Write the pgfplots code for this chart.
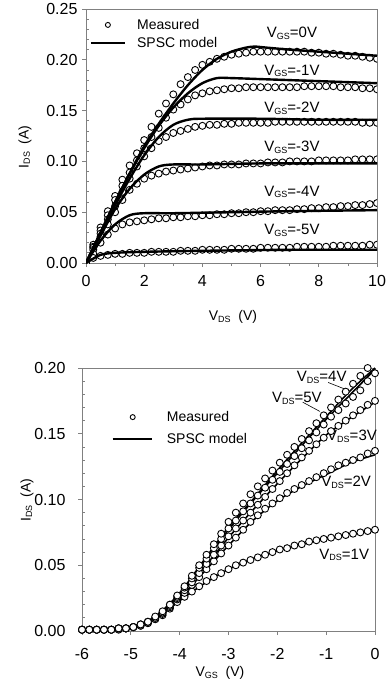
\documentclass[border=0pt]{standalone}
\usepackage{pgfplots}
\pgfplotsset{compat=1.18}
\usepackage{fontspec}
\setmainfont{Liberation Sans}
\newcommand\sub[1]{\raisebox{-0.2ex}{\fontsize{9}{9}\selectfont #1}}
\definecolor{axgray}{RGB}{128,128,128}
\pgfplotsset{
  myaxis/.style={
    scale only axis, axis line style={axgray, line width=1pt},
    every tick/.style={axgray, line width=0.8pt},
    major tick length=4pt, minor tick length=3pt,
    tick align=outside, xtick pos=bottom, ytick pos=left,
    minor y tick num=4,
    minor y tick style={xshift=3pt},
    /pgf/number format/assume math mode=true,
    tick label style={font=\fontsize{16}{16}\selectfont, black},
    scaled y ticks=false,
    yticklabel style={/pgf/number format/fixed, /pgf/number format/precision=2, /pgf/number format/fixed zerofill},
    label style={font=\fontsize{14}{14}\selectfont},
  },
  meas/.style={only marks, mark=*, mark size=3.5pt, mark options={fill=white, draw=black, line width=0.9pt}, black},
  model/.style={no marks, black, line width=2.4pt, smooth},
  measlegA/.style={legend image code/.code={\draw[mark repeat=2, mark phase=2, ##1] plot coordinates {(0pt,0pt)(17pt,0pt)(34pt,0pt)};}},
  modellegA/.style={legend image code/.code={\draw[##1] (0pt,0pt) -- (34pt,0pt);}},
  measlegB/.style={legend image code/.code={\draw[mark repeat=2, mark phase=2, ##1] plot coordinates {(0pt,0pt)(20pt,0pt)(39pt,0pt)};}},
  modellegB/.style={legend image code/.code={\draw[##1] (0pt,0pt) -- (39pt,0pt);}},
}
\pgfplotstableread{
x a0 a1 a2 a3 a4 a5
0 0 0 0 0 0 0
0.25 0.018 0.016 0.015 0.013 0.009 0.005
0.5 0.035 0.032 0.029 0.026 0.020 0.007
0.75 0.051 0.047 0.043 0.038 0.028 0.008
1.0 0.066 0.062 0.056 0.050 0.034 0.009
1.25 0.082 0.076 0.070 0.062 0.038 0.009
1.5 0.096 0.089 0.083 0.072 0.040 0.010
1.75 0.108 0.101 0.095 0.078 0.041 0.010
2.0 0.121 0.113 0.105 0.083 0.042 0.010
2.25 0.134 0.124 0.113 0.086 0.043 0.011
2.5 0.147 0.133 0.120 0.088 0.044 0.011
2.75 0.157 0.143 0.124 0.090 0.044 0.011
3.0 0.166 0.151 0.128 0.091 0.045 0.011
3.25 0.176 0.156 0.130 0.092 0.045 0.012
3.5 0.183 0.161 0.132 0.093 0.046 0.012
3.75 0.190 0.165 0.134 0.094 0.046 0.012
4.0 0.195 0.167 0.135 0.095 0.047 0.013
4.25 0.198 0.169 0.136 0.096 0.047 0.013
4.5 0.201 0.170 0.136 0.096 0.048 0.013
4.75 0.203 0.171 0.137 0.097 0.048 0.013
5.0 0.205 0.172 0.137 0.097 0.049 0.014
5.25 0.206 0.172 0.138 0.097 0.049 0.014
5.5 0.207 0.173 0.138 0.098 0.050 0.014
5.75 0.208 0.173 0.138 0.098 0.050 0.014
6.0 0.208 0.173 0.138 0.098 0.051 0.015
6.25 0.208 0.173 0.138 0.099 0.051 0.015
6.5 0.208 0.173 0.139 0.099 0.052 0.015
6.75 0.208 0.173 0.139 0.099 0.052 0.015
7.0 0.208 0.173 0.139 0.100 0.052 0.015
7.25 0.208 0.173 0.139 0.100 0.053 0.016
7.5 0.208 0.174 0.139 0.100 0.053 0.016
7.75 0.207 0.174 0.139 0.100 0.054 0.016
8.0 0.207 0.174 0.139 0.101 0.054 0.016
8.25 0.206 0.174 0.139 0.101 0.055 0.016
8.5 0.206 0.174 0.139 0.101 0.055 0.017
8.75 0.205 0.173 0.139 0.101 0.056 0.017
9.0 0.204 0.173 0.139 0.101 0.056 0.017
9.25 0.204 0.173 0.139 0.102 0.057 0.017
9.5 0.203 0.172 0.138 0.102 0.057 0.017
9.75 0.202 0.172 0.138 0.102 0.058 0.018
10.0 0.201 0.171 0.138 0.102 0.059 0.018
}\topmeas
\pgfplotstableread{
x d1 d2 d3 d4 d5
-6.00 0.001 0.001 0.001 0.001 0.001
-5.85 0.001 0.001 0.001 0.001 0.001
-5.70 0.001 0.001 0.001 0.001 0.001
-5.55 0.001 0.001 0.001 0.001 0.001
-5.40 0.001 0.001 0.001 0.001 0.001
-5.25 0.002 0.001 0.002 0.002 0.002
-5.10 0.002 0.002 0.002 0.002 0.002
-4.95 0.003 0.003 0.003 0.003 0.003
-4.80 0.004 0.004 0.005 0.005 0.005
-4.65 0.006 0.006 0.007 0.007 0.007
-4.50 0.009 0.009 0.010 0.011 0.010
-4.35 0.012 0.013 0.014 0.015 0.014
-4.20 0.017 0.018 0.019 0.020 0.020
-4.05 0.022 0.024 0.025 0.027 0.026
-3.90 0.026 0.029 0.031 0.034 0.033
-3.75 0.030 0.035 0.037 0.042 0.040
-3.60 0.034 0.041 0.044 0.050 0.048
-3.45 0.038 0.047 0.051 0.058 0.055
-3.30 0.041 0.053 0.058 0.066 0.063
-3.15 0.044 0.059 0.065 0.074 0.070
-3.00 0.047 0.065 0.072 0.083 0.078
-2.85 0.050 0.071 0.078 0.090 0.084
-2.70 0.052 0.077 0.084 0.097 0.091
-2.55 0.054 0.083 0.090 0.104 0.097
-2.40 0.056 0.088 0.096 0.110 0.103
-2.25 0.058 0.093 0.102 0.116 0.109
-2.10 0.060 0.097 0.108 0.122 0.115
-1.95 0.062 0.101 0.114 0.128 0.121
-1.80 0.063 0.105 0.120 0.134 0.127
-1.65 0.065 0.108 0.126 0.140 0.133
-1.50 0.066 0.111 0.132 0.146 0.139
-1.35 0.068 0.114 0.137 0.152 0.145
-1.20 0.069 0.117 0.142 0.158 0.151
-1.05 0.070 0.120 0.147 0.164 0.157
-0.90 0.071 0.123 0.152 0.170 0.163
-0.75 0.072 0.126 0.156 0.176 0.168
-0.60 0.073 0.128 0.160 0.182 0.173
-0.45 0.074 0.130 0.164 0.188 0.178
-0.30 0.075 0.132 0.168 0.194 0.183
-0.15 0.076 0.135 0.172 0.200 0.190
0.00 0.077 0.137 0.175 0.206 0.196
}\botmeas
\begin{document}
\begin{tikzpicture}
\path[use as bounding box] (0,0) rectangle (387pt,-690pt);
% ---------- top: output characteristics ----------
\begin{axis}[myaxis, clip=true, clip marker paths=true,
  at={(86pt,-263pt)}, anchor=south west,
  width=291pt, height=254pt,
  xmin=0, xmax=10, ymin=0, ymax=0.25,
  xtick={0,2,...,10}, minor x tick num=1,
  ytick={0,0.05,0.1,0.15,0.2,0.25},
  xticklabel style={yshift=-5pt},
  yticklabel style={xshift=-1pt},
  xlabel={V\sub{DS}\ \ (V)}, ylabel={I\sub{DS}\ \ (A)},
  xlabel style={at={(axis description cs:0.505,-0.213)}, anchor=center},
  ylabel style={at={(axis description cs:-0.21,0.457)}, anchor=center},
  legend style={at={(rel axis cs:0.012,0.965)}, anchor=north west, draw=none, fill=none,
    inner sep=0pt, font=\fontsize{14}{14}\selectfont, row sep=4.5pt,
    nodes={inner sep=1pt},
    /tikz/every odd column/.append style={column sep=10pt}},
  legend cell align=left,
]
\addplot[meas, forget plot] table[x=x, y=a0] {\topmeas};
\addplot[meas, forget plot] table[x=x, y=a1] {\topmeas};
\addplot[meas, forget plot] table[x=x, y=a2] {\topmeas};
\addplot[meas, forget plot] table[x=x, y=a3] {\topmeas};
\addplot[meas, forget plot] table[x=x, y=a4] {\topmeas};
\addplot[meas, forget plot] table[x=x, y=a5] {\topmeas};
\addplot[model, forget plot] coordinates {(0,0)(0.5,0.03)(1,0.06)(1.5,0.088)(2,0.115)(2.5,0.137)(3,0.157)(3.5,0.175)(4,0.19)(4.5,0.201)(5,0.208)(5.5,0.212)(5.8,0.213)(6.2,0.212)(7,0.21)(8,0.208)(9,0.206)(10,0.204)};
\addplot[model, forget plot] coordinates {(0,0)(0.5,0.03)(1,0.06)(1.5,0.088)(2,0.113)(2.5,0.135)(3,0.153)(3.5,0.167)(4,0.177)(4.5,0.182)(5,0.182)(6,0.181)(7,0.18)(8,0.179)(9,0.178)(10,0.177)};
\addplot[model, forget plot] coordinates {(0,0)(0.5,0.029)(1,0.057)(1.5,0.083)(2,0.106)(2.5,0.124)(3,0.136)(3.5,0.141)(4,0.142)(6,0.142)(8,0.141)(10,0.141)};
\addplot[model, forget plot] coordinates {(0,0)(0.5,0.027)(1,0.053)(1.5,0.073)(2,0.087)(2.5,0.095)(3,0.097)(4,0.097)(6,0.098)(8,0.098)(10,0.098)};
\addplot[model, forget plot] coordinates {(0,0)(0.5,0.022)(1,0.038)(1.5,0.047)(2,0.049)(3,0.049)(5,0.05)(7,0.051)(10,0.052)};
\addplot[model, forget plot] coordinates {(0,0)(0.5,0.008)(1,0.01)(2,0.011)(4,0.012)(7,0.013)(10,0.013)};
\addlegendimage{meas, mark size=2.5pt, measlegA}
\addlegendentry{Measured}
\addlegendimage{model, modellegA}
\addlegendentry{SPSC model}
\begin{scope}[every node/.style={font=\fontsize{15}{15}\selectfont, anchor=center}]
\node at (axis cs:7.08,0.226) {V\sub{GS}=0V};
\node at (axis cs:7.08,0.189) {V\sub{GS}=-1V};
\node at (axis cs:7.08,0.152) {V\sub{GS}=-2V};
\node at (axis cs:7.08,0.114) {V\sub{GS}=-3V};
\node at (axis cs:7.08,0.070) {V\sub{GS}=-4V};
\node at (axis cs:7.08,0.032) {V\sub{GS}=-5V};
\end{scope}
\end{axis}
% ---------- bottom: transfer characteristics ----------
\begin{axis}[myaxis, clip=false,
  at={(82pt,-631pt)}, anchor=south west,
  width=293pt, height=263pt,
  xmin=-6, xmax=0, ymin=0, ymax=0.2,
  xtick={-6,...,0},
  ytick={0,0.05,0.1,0.15,0.2},
  xticklabel style={yshift=-10pt},
  yticklabel style={xshift=-9pt},
  xlabel={V\sub{GS}\ \ (V)}, ylabel={I\sub{DS}\ \ (A)},
  xlabel style={at={(axis description cs:0.471,-0.16)}, anchor=center},
  ylabel style={at={(axis description cs:-0.188,0.498)}, anchor=center},
  legend style={at={(rel axis cs:0.1,0.84)}, anchor=north west, draw=none, fill=none,
    inner sep=0pt, font=\fontsize{14}{14}\selectfont, row sep=8pt,
    nodes={inner sep=1pt},
    /tikz/every odd column/.append style={column sep=13pt}},
  legend cell align=left,
]
\addplot[model, line width=1.6pt, forget plot] coordinates {(-6,0.001)(-5,0.003)(-4.5,0.009)(-4,0.023)(-3.5,0.036)(-3,0.047)(-2.5,0.055)(-2,0.061)(-1.5,0.066)(-1,0.07)(-0.5,0.074)(0,0.076)};
\addplot[model, line width=1.6pt, forget plot] coordinates {(-6,0.001)(-5,0.003)(-4.5,0.01)(-4,0.025)(-3.5,0.045)(-3,0.065)(-2.5,0.084)(-2,0.099)(-1.5,0.11)(-1,0.119)(-0.5,0.128)(0,0.134)};
\addplot[model, line width=1.6pt, forget plot] coordinates {(-6,0.001)(-5,0.003)(-4.5,0.01)(-4,0.027)(-3.5,0.048)(-3,0.071)(-2.5,0.092)(-2,0.112)(-1.5,0.131)(-1,0.149)(-0.5,0.162)(0,0.174)};
\addplot[model, line width=1.6pt, forget plot] coordinates {(-6,0.001)(-5,0.003)(-4.5,0.011)(-4,0.029)(-3.5,0.054)(-3,0.079)(-2.5,0.1)(-2,0.122)(-1.5,0.143)(-1,0.163)(-0.5,0.183)(0,0.2)};
\addplot[model, line width=1.6pt, forget plot] coordinates {(-6,0.001)(-5,0.003)(-4.5,0.011)(-4,0.028)(-3.5,0.052)(-3,0.077)(-2.5,0.099)(-2,0.12)(-1.5,0.141)(-1,0.161)(-0.5,0.18)(0,0.199)};
\addplot[meas, forget plot] table[x=x, y=d1] {\botmeas};
\addplot[meas, forget plot] table[x=x, y=d2] {\botmeas};
\addplot[meas, forget plot] table[x=x, y=d3] {\botmeas};
\addplot[meas, forget plot] table[x=x, y=d5] {\botmeas};
\addplot[meas, forget plot, restrict y to domain=0:0.201] table[x=x, y=d4] {\botmeas};
\addlegendimage{meas, mark size=2.5pt, measlegB}
\addlegendentry{Measured}
\addlegendimage{model, modellegB}
\addlegendentry{SPSC model}
\begin{scope}[every node/.style={font=\fontsize{15}{15}\selectfont, anchor=center}]
\node at (axis cs:-1.09,0.193) {V\sub{DS}=4V};
\node at (axis cs:-1.6,0.177) {V\sub{DS}=5V};
\node at (axis cs:-0.47,0.148) {V\sub{DS}=3V};
\node at (axis cs:-0.59,0.113) {V\sub{DS}=2V};
\node at (axis cs:-0.63,0.058) {V\sub{DS}=1V};
\end{scope}
\draw[black, line width=0.6pt] (axis cs:-0.96,0.189) -- (axis cs:-0.55,0.183);
\draw[black, line width=0.6pt] (axis cs:-1.48,0.174) -- (axis cs:-1.13,0.167);
\end{axis}
\end{tikzpicture}
\end{document}
